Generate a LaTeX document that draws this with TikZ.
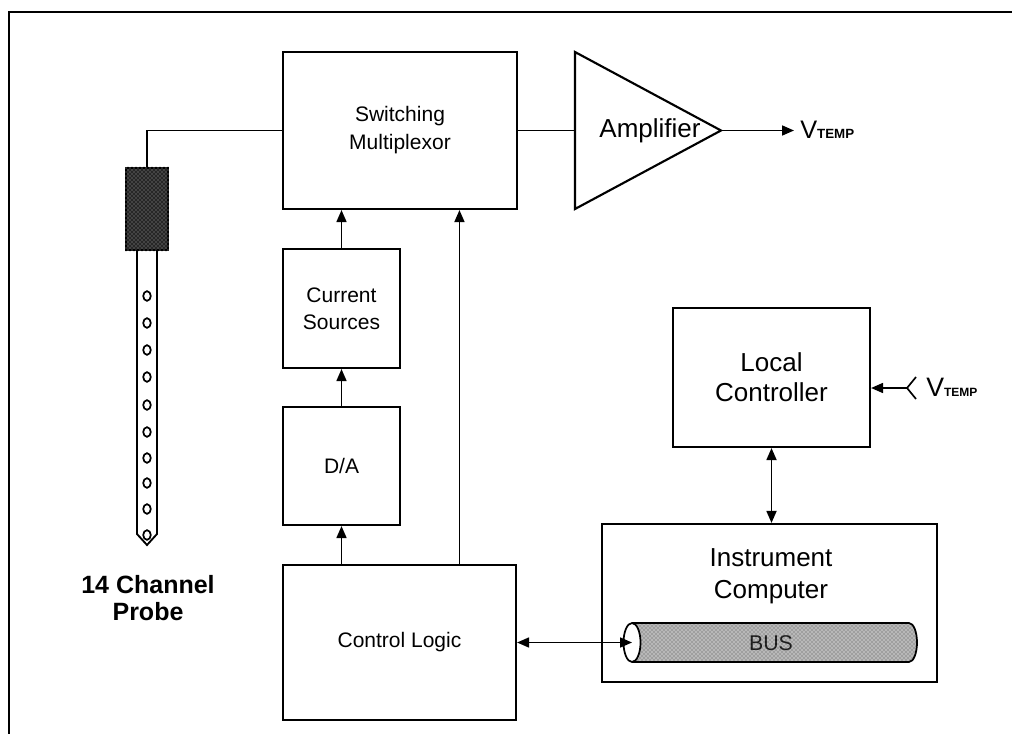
\documentclass[tikz,border=0pt]{standalone}
\usepackage{fontspec}
\setmainfont{Liberation Sans}
\usetikzlibrary{arrows.meta,fit,patterns,calc}

% V with a small TEMP subscript set on the same baseline
\newcommand\VtempSig[2]{{\fontsize{#1}{#1}\selectfont V}{\fontsize{#2}{#2}\selectfont\bfseries TEMP}}

\begin{document}
\begin{tikzpicture}[x=0.75pt,y=-0.75pt,
  box/.style={draw, line width=1.6pt, inner sep=0pt},
  small/.style={font=\fontsize{15.75}{20.5}\selectfont, align=center, inner sep=0pt},
  big/.style={font=\fontsize{19.5}{22.5}\selectfont, align=center, inner sep=0pt},
  wire/.style={line width=1.25pt},
  arr/.style={wire, -{Triangle[length=9pt,width=7.5pt]}},
  darr/.style={wire, {Triangle[length=9pt,width=7.5pt]}-{Triangle[length=9pt,width=7.5pt]}},
]
\useasboundingbox (0,0) rectangle (1012,734);

% outer frame (open to the right and bottom)
\draw[line width=1.8pt] (9,734) -- (9,12) -- (1012,12);

% ---------- signal chain blocks ----------
\node[box, fit={(283,52) (517,209)}] (mux) {};
\node[small, font=\fontsize{15.75}{21}\selectfont] (muxtext) at (mux.center) {Switching\\Multiplexor};

\node[box, fit={(283,249) (400,368)}] (cur) {};
\node[small] (curtext) at (cur.center) {Current\\Sources};

\node[box, fit={(283,407) (400,525)}] (da) {};
\node[small] (datext) at (da.center) {D/A};

\node[box, fit={(283,565) (516,720)}] (ctl) {};
\node[small] (ctltext) at (ctl.center) {Control Logic};

% amplifier triangle
\coordinate (ampin) at (575,130.5);
\coordinate (ampout) at (721,130.5);
\draw[line width=1.6pt, line join=miter] (575,52) -- (ampout) -- (575,209) -- cycle;
\node[big] (amptext) at (650,130.5) {Amplifier};
\coordinate (vout) at (794,130.5);
\node[anchor=base west, inner sep=0pt] (vtempout) at (800,138.5) {\VtempSig{19}{10}};

% ---------- probe ----------
\node[box, fill=black!85, fit={(126,168) (168,250)}] (head) {};
\fill[pattern=crosshatch dots, pattern color=black!35] (head.south west) rectangle (head.north east);
\draw[line width=1.4pt, line join=miter] (137,250) -- (137,534) -- (147,545) -- (157,534) -- (157,250);
\foreach \yy in {296,323,350,377,405,432,458,483,509,535}
  \draw[line width=1.3pt] (147,\yy) ellipse [x radius=3.8, y radius=4.8];
\node[font=\bfseries\fontsize{18.75}{20.5}\selectfont, align=center, inner sep=0pt] (probelabel) at (148,598) {14 Channel\\Probe};

% ---------- controller side ----------
\node[box, fit={(673,308) (870,447)}] (loc) {};
\node[big, font=\fontsize{19.5}{22.5}\selectfont] (loctext) at (loc.center) {Local\\Controller};

\node[box, fit={(602,524) (937,682)}] (inst) {};
\node[big, font=\fontsize{19.5}{24}\selectfont] (insttext) at (771,576) {Instrument\\Computer};

% bus drawn as a cylinder seen from its left end
\fill[black!28]
  (632,623) -- (909,623) .. controls (913.5,623) and (917,632) .. (917,642.5)
  .. controls (917,653) and (913.5,662) .. (909,662) -- (632,662) -- cycle;
\node[inner sep=0pt, font=\fontsize{16}{16}\selectfont, text=black!90] (bustext) at (771,643) {BUS};
\fill[pattern=crosshatch dots, pattern color=black!70]
  (632,623) -- (909,623) .. controls (913.5,623) and (917,632) .. (917,642.5)
  .. controls (917,653) and (913.5,662) .. (909,662) -- (632,662) -- cycle;
\draw[line width=1.3pt]
  (632,623) -- (909,623) .. controls (913.5,623) and (917,632) .. (917,642.5)
  .. controls (917,653) and (913.5,662) .. (909,662) -- (632,662);
\draw[line width=1.3pt, fill=white] (632,642.5) ellipse [x radius=8.5, y radius=19.5];
\coordinate (busend) at (632,642.5);

% V_TEMP input fork of the local controller
\coordinate (fork) at (907,388);
\draw[wire] (916,377) -- (fork) -- (916,399);
\node[anchor=base west, inner sep=0pt] (vtempin) at (926,396.5) {\VtempSig{20}{9}};

% ---------- connectors ----------
\draw[wire] (head.north) |- (mux.west);
\draw[wire] (mux.east) -- (ampin);
\draw[arr] (ampout) -- (vout);
\draw[arr] (cur.north) -- (cur.north |- mux.south);
\draw[arr] (da.north) -- (cur.south);
\draw[arr] (da.south |- ctl.north) -- (da.south);
\coordinate (tap) at ($(ctl.north west)!0.755!(ctl.north east)$);
\draw[arr] (tap) -- (tap |- mux.south);
\draw[darr] (ctl.east |- busend) -- (busend);
\draw[darr] (loc.south) -- (loc.south |- inst.north);
\draw[arr] (fork) -- (fork -| loc.east);
\end{tikzpicture}
\end{document}
